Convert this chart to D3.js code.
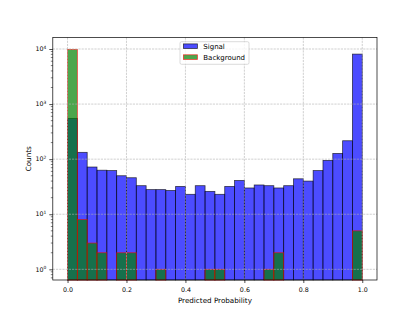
<!DOCTYPE html>
<html>
<head>
<meta charset="utf-8">
<script src="https://cdn.jsdelivr.net/npm/d3@7"></script>
<style>
  body { margin: 0; background: #fff; }
  text { font-family: "DejaVu Sans", sans-serif; }
</style>
</head>
<body>
<div id="my_dataviz"></div>
<script>
// histogram data: 30 equal bins between 0 and 1
var binCount = 30;
var signalCounts = [550, 133, 72, 63, 62, 50, 46, 33, 28, 28, 27, 32, 23, 33, 26,
  23, 32, 41, 30, 34, 33, 30, 33, 44, 40, 62, 95, 127, 216, 8080];
var backgroundCounts = [9850, 8, 3, 2, 0, 2, 2, 0, 0, 1, 0, 0, 0, 0, 1,
  1, 0, 0, 0, 0, 1, 2, 0, 0, 0, 0, 0, 0, 0, 5];
var xTicks = [0, 0.2, 0.4, 0.6, 0.8, 1.0];
var yTicks = [1, 10, 100, 1000, 10000];
var seriesNames = ["Signal", "Background"];

// set the dimensions and margins of the graph
var W = 419, H = 315;
var margin = { top: 37.5, right: 42, bottom: 35, left: 52.8 },
  width = W - margin.left - margin.right,
  height = H - margin.top - margin.bottom;

var svg = d3.select("#my_dataviz")
  .append("svg")
  .attr("width", W)
  .attr("height", H)
  .append("g")
  .attr("transform", "translate(" + margin.left + "," + margin.top + ")");

// scales
var x = d3.scaleLinear()
  .domain([-0.05, 1.05])
  .range([0, width]);
var y = d3.scaleLog()
  .domain([Math.pow(10, -0.194), Math.pow(10, 4.209)])
  .range([height, 0]);

var bins = d3.range(binCount).map(function (i) {
  return { x0: i / binCount, x1: (i + 1) / binCount, s: signalCounts[i], b: backgroundCounts[i] };
});

// Signal bars
svg.selectAll("sigbar")
  .data(bins)
  .enter()
  .append("rect")
  .attr("x", function (d) { return x(d.x0); })
  .attr("width", function (d) { return x(d.x1) - x(d.x0); })
  .attr("y", function (d) { return y(d.s); })
  .attr("height", function (d) { return height - y(d.s); })
  .style("fill", "rgb(0,0,255)")
  .style("fill-opacity", 0.7)
  .style("stroke", "black")
  .style("stroke-opacity", 0.7)
  .style("stroke-width", 0.8);

// Background bars
svg.selectAll("bkgbar")
  .data(bins.filter(function (d) { return d.b > 0; }))
  .enter()
  .append("rect")
  .attr("x", function (d) { return x(d.x0); })
  .attr("width", function (d) { return x(d.x1) - x(d.x0); })
  .attr("y", function (d) { return y(d.b); })
  .attr("height", function (d) { return height - y(d.b); })
  .style("fill", "rgb(0,128,0)")
  .style("fill-opacity", 0.7)
  .style("stroke", "red")
  .style("stroke-opacity", 0.7)
  .style("stroke-width", 0.8);

// grid (drawn above bars like matplotlib)
svg.selectAll("xgrid")
  .data(xTicks)
  .enter()
  .append("line")
  .attr("x1", function (d) { return x(d); })
  .attr("x2", function (d) { return x(d); })
  .attr("y1", 0)
  .attr("y2", height)
  .attr("stroke", "#b0b0b0")
  .attr("stroke-width", 0.6)
  .attr("stroke-dasharray", "2.2,1");
svg.selectAll("ygrid")
  .data(yTicks)
  .enter()
  .append("line")
  .attr("y1", function (d) { return y(d); })
  .attr("y2", function (d) { return y(d); })
  .attr("x1", 0)
  .attr("x2", width)
  .attr("stroke", "#b0b0b0")
  .attr("stroke-width", 0.6)
  .attr("stroke-dasharray", "2.2,1");

// X axis
var xAxis = svg.append("g")
  .attr("transform", "translate(0," + height + ")")
  .call(d3.axisBottom(x).tickValues(xTicks).tickFormat(d3.format(".1f")).tickSizeOuter(0).tickSize(3));
xAxis.select(".domain").remove();
xAxis.selectAll("line").attr("stroke-width", 0.7);
xAxis.selectAll("text")
  .attr("font-size", "6.3px")
  .attr("font-family", "DejaVu Sans")
  .attr("fill", "#000")
  .attr("dy", "0.9em");

// Y axis: major ticks with 10^n labels
var yAxis = svg.append("g")
  .call(d3.axisLeft(y).tickValues(yTicks).tickSize(3.5).tickFormat(""));
yAxis.select(".domain").remove();
yAxis.selectAll("line").attr("stroke-width", 0.7);

// minor ticks
var minor = [];
[0.1, 1, 10, 100, 1000, 10000].forEach(function (p) {
  for (var k = 2; k <= 9; k++) minor.push(p * k);
});
svg.selectAll("minortick")
  .data(minor.filter(function (v) { return v >= y.domain()[0] && v <= y.domain()[1]; }))
  .enter()
  .append("line")
  .attr("x1", -2)
  .attr("x2", 0)
  .attr("y1", function (d) { return y(d); })
  .attr("y2", function (d) { return y(d); })
  .attr("stroke", "black")
  .attr("stroke-width", 0.5);

var ylab = svg.selectAll("ylab")
  .data(yTicks)
  .enter()
  .append("text")
  .attr("x", -6.5)
  .attr("y", function (d) { return y(d) + 2.2; })
  .attr("text-anchor", "end")
  .attr("font-size", "6.3px")
  .attr("fill", "#000");
ylab.append("tspan").text("10");
ylab.append("tspan")
  .attr("dy", -2.6)
  .attr("font-size", "4.4px")
  .text(function (d) { return Math.round(Math.log10(d)); });

// frame
svg.append("rect")
  .attr("x", 0)
  .attr("y", 0)
  .attr("width", width)
  .attr("height", height)
  .attr("fill", "none")
  .attr("stroke", "black")
  .attr("stroke-width", 0.7);

// axis labels
svg.append("text")
  .attr("text-anchor", "middle")
  .attr("x", x(0.5))
  .attr("y", height + 23)
  .text("Predicted Probability")
  .style("font-size", "7.2px");
svg.append("text")
  .attr("text-anchor", "middle")
  .attr("transform", "translate(" + (-22) + "," + (height / 2) + ") rotate(-90)")
  .text("Counts")
  .style("font-size", "7.2px");

// legend
var lg = svg.append("g")
  .attr("transform", "translate(" + (180 - margin.left) + "," + (41.7 - margin.top) + ")");
lg.append("rect")
  .attr("width", 69)
  .attr("height", 22.6)
  .attr("rx", 1.5)
  .attr("fill", "white")
  .attr("fill-opacity", 0.8)
  .attr("stroke", "#cccccc")
  .attr("stroke-width", 0.7);
var legendFill = ["rgb(0,0,255)", "rgb(0,128,0)"];
var legendStroke = ["black", "red"];
seriesNames.forEach(function (name, i) {
  lg.append("rect")
    .attr("x", 3.4)
    .attr("y", 2.2 + i * 10.9)
    .attr("width", 14)
    .attr("height", 4.6)
    .style("fill", legendFill[i])
    .style("fill-opacity", 0.7)
    .style("stroke", legendStroke[i])
    .style("stroke-opacity", 0.7)
    .style("stroke-width", 0.8);
  lg.append("text")
    .attr("x", 23.3)
    .attr("y", 7.4 + i * 10.9)
    .text(name)
    .style("font-size", "7px");
});
</script>
</body>
</html>
